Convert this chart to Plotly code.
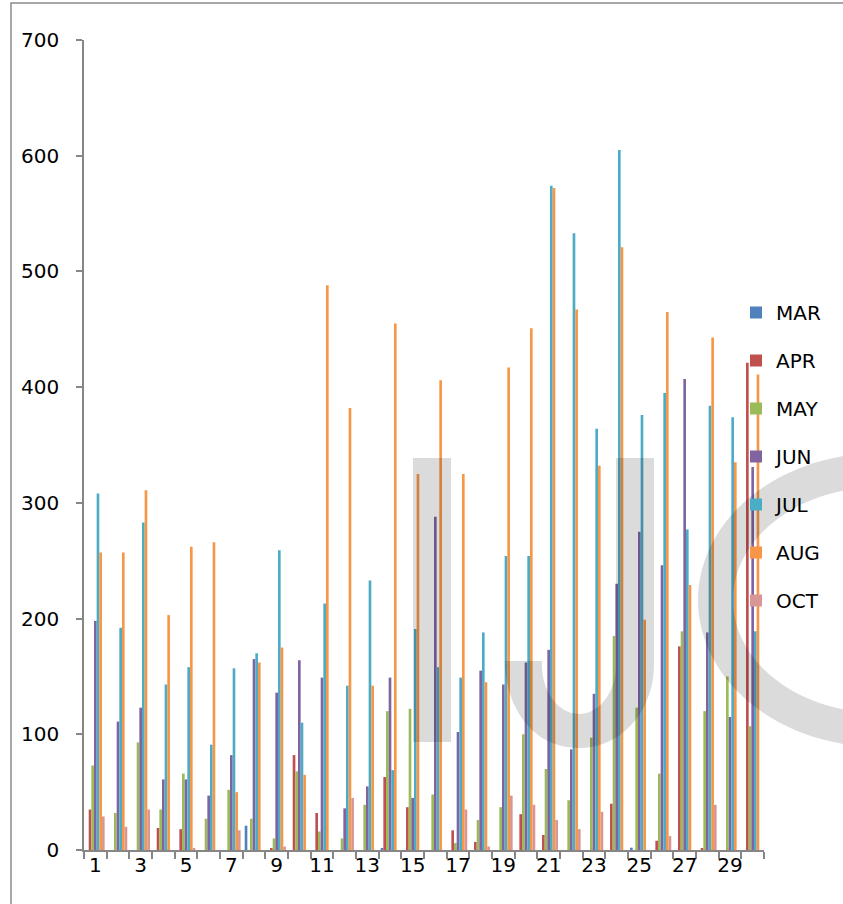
import numpy as np
import plotly.graph_objects as go

# Daily counts per month, day 1..30
days = list(range(1, 31))
day_labels = [str(d) for d in range(1, 30, 2)]
day_ticks = list(range(1, 30, 2))

months = ["MAR", "APR", "MAY", "JUN", "JUL", "AUG", "OCT"]

mar = [0, 0, 0, 0, 0, 0, 0, 21, 0, 0, 0, 0, 0, 1, 0,
       0, 0, 0, 0, 0, 0, 0, 0, 0, 2, 0, 0, 0, 0, 0]
apr = [35, 0, 0, 19, 18, 0, 0, 0, 1, 82, 32, 0, 0, 63, 37,
       0, 17, 7, 0, 31, 13, 0, 0, 40, 0, 8, 176, 1, 0, 421]
may = [73, 32, 93, 35, 66, 27, 52, 27, 10, 68, 16, 10, 39, 120, 122,
       48, 6, 26, 37, 100, 70, 43, 97, 185, 123, 66, 189, 120, 150, 107]
jun = [198, 111, 123, 61, 61, 47, 82, 165, 136, 164, 149, 36, 55, 149, 45,
       288, 102, 155, 143, 162, 173, 87, 135, 230, 275, 246, 407, 188, 115, 331]
jul = [308, 192, 283, 143, 158, 91, 157, 170, 259, 110, 213, 142, 233, 69, 191,
       158, 149, 188, 254, 254, 574, 533, 364, 605, 376, 395, 277, 384, 374, 189]
aug = [257, 257, 311, 203, 262, 266, 50, 162, 175, 65, 488, 382, 142, 455, 325,
       406, 325, 145, 417, 451, 572, 467, 332, 521, 199, 465, 229, 443, 335, 411]
octo = [29, 20, 35, 0, 1, 0, 17, 0, 3, 0, 0, 45, 0, 0, 0,
        0, 35, 3, 47, 39, 26, 18, 33, 0, 0, 12, 0, 39, 0, 0]

series = [mar, apr, may, jun, jul, aug, octo]
colors = ["#4F81BD", "#C0504D", "#9BBB59", "#8064A2", "#4BACC6", "#F79646", "#D99694"]

W, H = 843, 904
L, R, T, B = 84, 79, 40, 54
PW, PH = W - L - R, H - T - B


def px(x, y):
    """Pixel position on the page -> paper coordinates."""
    return (x - L) / PW, (H - B - y) / PH


def path_from(points, closed=True):
    parts = []
    for i, (x, y) in enumerate(points):
        u, v = px(x, y)
        parts.append(("M" if i == 0 else "L") + f"{u:.5f},{v:.5f}")
    return " ".join(parts) + (" Z" if closed else "")


fig = go.Figure()
for name, vals, col in zip(months, series, colors):
    fig.add_trace(go.Bar(
        x=days, y=vals, name=name, legendgroup=name,
        marker=dict(color=col, line=dict(width=0)),
    ))

# light watermark drawn over the plot
wm = "rgba(0,0,0,0.14)"
shapes = []
x0, y0 = px(413, 458)
x1, y1 = px(451, 742)
shapes.append(dict(type="rect", xref="paper", yref="paper", x0=x0, y0=y1, x1=x1, y1=y0,
                   fillcolor=wm, line=dict(width=0), layer="above"))

# hooked stroke
t = np.linspace(0, np.pi / 2, 20)
outer = [(654, 458), (654, 665)]
outer += [(580 + 74 * np.cos(a), 665 + 83 * np.sin(a)) for a in t]
outer += [(580 - 75 * np.sin(a) ** 0.9, 748 - 87 * (1 - np.cos(a))) for a in t[1:]]
inner = [(542, 661)] + [(579 - 37 * np.cos(a), 665 + 49 * np.sin(a)) for a in t] + \
        [(579 + 37 * np.sin(a), 714 - 49 * (1 - np.cos(a))) for a in t[1:]] + [(616, 458)]
hook = outer + [(505, 661)] + inner
shapes.append(dict(type="path", xref="paper", yref="paper", path=path_from(hook),
                   fillcolor=wm, line=dict(width=0), layer="above"))

# open ring on the right
cx, cy = 880, 600
th = np.linspace(np.radians(60), np.radians(300), 80)
ring_out = [(cx + 182 * np.cos(a), cy - 147 * np.sin(a)) for a in th]
ring_in = [(cx + 147 * np.cos(a), cy - 113 * np.sin(a)) for a in th[::-1]]
shapes.append(dict(type="path", xref="paper", yref="paper", path=path_from(ring_out + ring_in),
                   fillcolor=wm, line=dict(width=0), layer="above"))

# chart frame
fx0, fy0 = px(11, 3)
fx1, fy1 = px(1000, 1000)
shapes.append(dict(type="rect", xref="paper", yref="paper", x0=fx0, y0=fy1, x1=fx1, y1=fy0,
                   line=dict(color="#8C8C8C", width=1.5), fillcolor="rgba(0,0,0,0)", layer="below"))

axis_col = "#868686"
font = dict(family="DejaVu Sans", size=20, color="#000000")
lx, ly = px(736, 293)

fig.update_layout(
    width=W, height=H, autosize=False,
    margin=dict(l=L, r=R, t=T, b=B, pad=0),
    paper_bgcolor="white", plot_bgcolor="white",
    barmode="group", bargap=0.18, bargroupgap=0,
    font=font,
    shapes=shapes,
    showlegend=True,
    legend=dict(x=lx, y=ly, xanchor="left", yanchor="top", font=font,
                bgcolor="rgba(0,0,0,0)", tracegroupgap=19, itemclick=False),
    xaxis=dict(range=[0.5, 30.5], tickmode="array", tickvals=day_ticks, ticktext=day_labels,
               ticks="", showline=True, linecolor=axis_col, linewidth=1.5,
               showgrid=False, zeroline=False, tickfont=font, ticklabelstandoff=-4,
               minor=dict(tickmode="array", tickvals=[d + 0.5 for d in range(0, 31)],
                          ticks="outside", ticklen=7, tickcolor=axis_col, tickwidth=1.5,
                          showgrid=False)),
    yaxis=dict(range=[0, 700], dtick=100, tick0=0, ticks="outside", ticklen=6,
               tickcolor=axis_col, tickwidth=1.5, showline=True, linecolor=axis_col,
               linewidth=1.5, showgrid=False, zeroline=False, tickfont=font,
               ticklabelstandoff=13),
)

fig.write_html("out.html")
